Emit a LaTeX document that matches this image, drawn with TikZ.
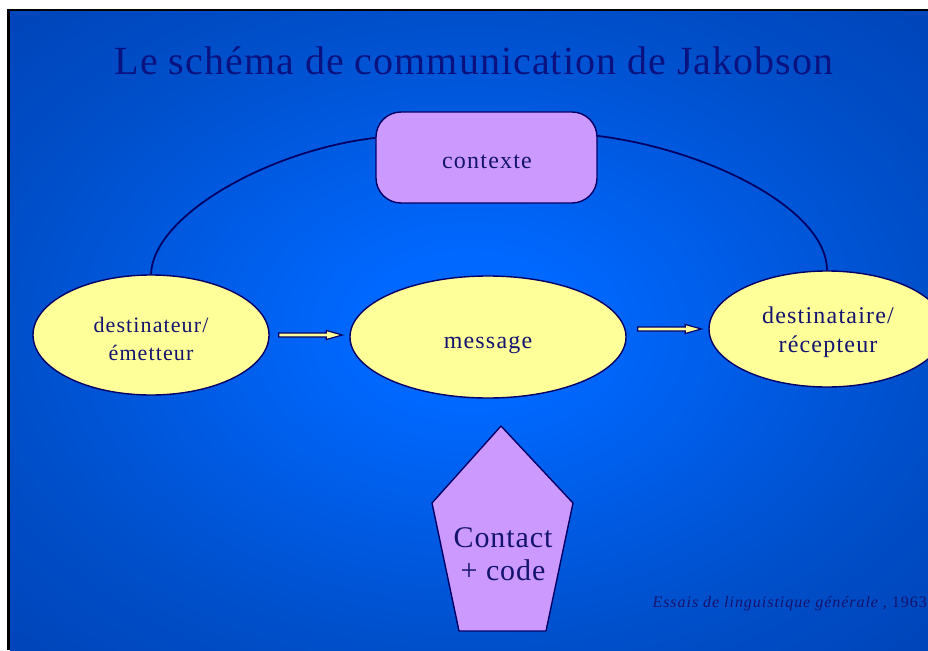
\documentclass[tikz,border=0pt]{standalone}
\usepackage{fontspec}
\setmainfont{Liberation Serif}
\newfontfamily\ftitle[LetterSpace=2.6]{Liberation Serif}
\newfontfamily\fbody[LetterSpace=5]{Liberation Serif}
\newfontfamily\fcontact[LetterSpace=3]{Liberation Serif}
\newfontfamily\fcite[LetterSpace=6]{Liberation Serif}
\usetikzlibrary{calc}
\definecolor{bgin}{HTML}{0068FF}
\definecolor{bgmid}{HTML}{004FCA}
\definecolor{bgout}{HTML}{0044B8}
\definecolor{navyline}{HTML}{000066}
\definecolor{txtc}{HTML}{14146E}
\definecolor{titlec}{HTML}{0A1280}
\definecolor{ellfill}{HTML}{FFFF99}
\definecolor{lavfill}{HTML}{CC99FF}
\pgfdeclareradialshading{slidebg}{\pgfpoint{0bp}{0bp}}{color(0bp)=(bgin); color(6bp)=(bgin); color(25bp)=(bgmid); color(36bp)=(bgout); color(50bp)=(bgout)}
\tikzset{
  ell/.style={ellipse, draw=navyline, line width=1.4pt, fill=ellfill, inner sep=0pt},
  ctxbox/.style={rectangle, rounded corners=25pt, draw=navyline, line width=1.4pt, fill=lavfill, inner sep=0pt},
  pent/.style={draw=navyline, line width=1.4pt, fill=lavfill, line join=round},
  lbl/.style={text=txtc, align=center, inner sep=0pt},
  barrow/.style={draw=navyline, line width=1.2pt, fill=ellfill, line join=miter},
  arcline/.style={draw=navyline, line width=1.8pt}
}
\usetikzlibrary{shapes.geometric}
\begin{document}
\begin{tikzpicture}[x=1pt,y=-1pt]
\useasboundingbox (0,0) rectangle (928,650);
\clip (0,0) rectangle (928,650);
\fill[white] (0,0) rectangle (928,650);
\fill[black] (7,9) rectangle (928,650);
\shade[shading=slidebg] (10,12) rectangle (928,650);

\node[anchor=base, text=titlec, font=\ftitle\fontsize{40}{48}\selectfont] (title) at (474,75) {Le schéma de communication de Jakobson};

\node[ell, minimum width=236pt, minimum height=120pt] (src) at (151,335) {};
\node[ell, minimum width=276pt, minimum height=122pt] (msg) at (488,337) {};
\node[ell, minimum width=236pt, minimum height=116pt] (dst) at (827,329) {};
\node[ctxbox, minimum width=221pt, minimum height=91pt] (ctx) at (486.5,157.5) {};

\draw[arcline] (src.north) .. controls (153,215) and (270,150) .. (ctx.170);
\draw[arcline] (ctx.11) .. controls (710,150) and (827,210) .. (dst.north);

\node[lbl, anchor=base, font=\fbody\fontsize{22}{28}\selectfont] (srct) at (151,360) {destinateur/\\émetteur};
\node[lbl, anchor=base, font=\fbody\fontsize{24}{29}\selectfont] (msgt) at (488,348) {message};
\node[lbl, anchor=base, font=\fbody\fontsize{24}{29}\selectfont] (dstt) at (828,352) {destinataire/\\récepteur};
\node[lbl, anchor=base, font=\fbody\fontsize{24}{29}\selectfont] (ctxt) at (487,168) {contexte};

\coordinate (a1) at ($(src.east)+(9,0)$);
\coordinate (a2) at ($(a1 -| msg.west)+(-7,0)$);
\draw[barrow] ($(a1)+(0,-2)$) -- ($(a2)+(-16,-2)$) -- ($(a2)+(-16,-4.5)$) -- (a2) -- ($(a2)+(-16,4.5)$) -- ($(a2)+(-16,2)$) -- ($(a1)+(0,2)$) -- cycle;

\coordinate (b2) at ($(dst.west)+(-7,0)$);
\coordinate (b1) at ($(b2 -| msg.east)+(11,0)$);
\draw[barrow] ($(b1)+(0,-2)$) -- ($(b2)+(-16,-2)$) -- ($(b2)+(-16,-4.5)$) -- (b2) -- ($(b2)+(-16,4.5)$) -- ($(b2)+(-16,2)$) -- ($(b1)+(0,2)$) -- cycle;

\draw[pent] (501,426) -- (573,503) -- (546,631) -- (459,631) -- (432,503) -- cycle;
\node[lbl, anchor=base, font=\fcontact\fontsize{30}{33}\selectfont] (cont) at (503,580) {Contact\\+ code};

\node[anchor=base east, text=txtc, inner sep=0pt, font=\fcite\fontsize{16}{18}\selectfont] (cite) at (927,607) {\itshape Essais de linguistique générale\upshape{} , 1963};
\end{tikzpicture}
\end{document}
